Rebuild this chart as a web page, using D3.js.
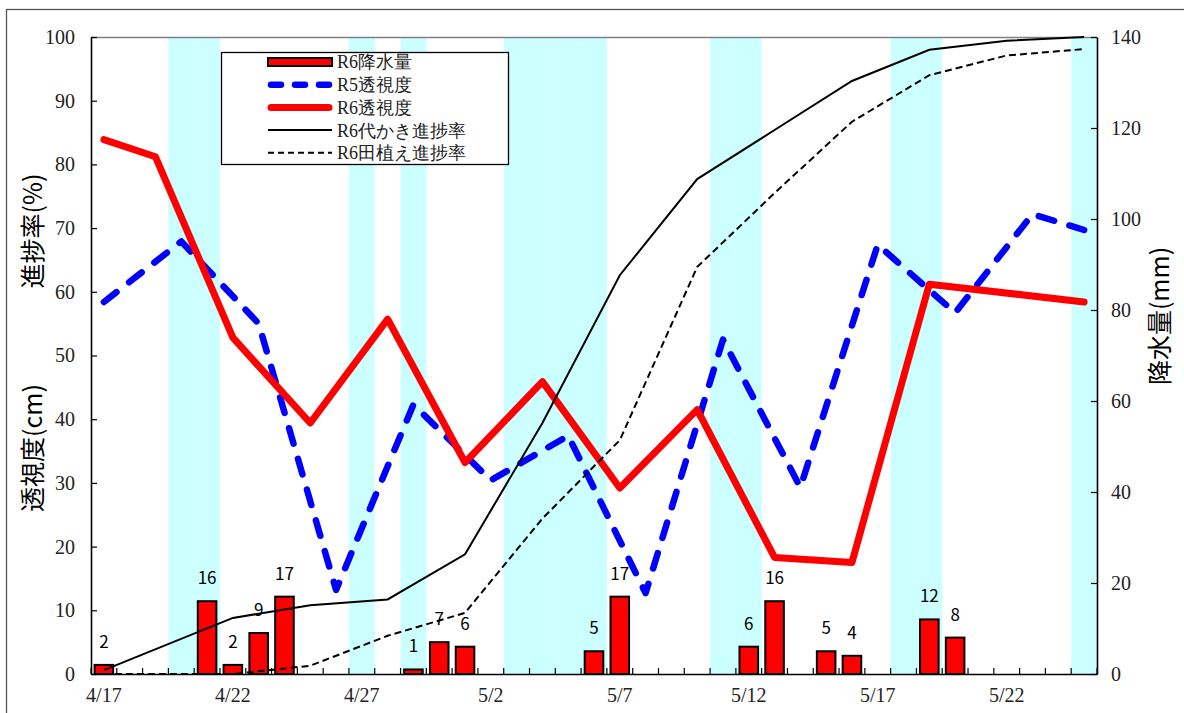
<!DOCTYPE html>
<html lang="ja">
<head>
<meta charset="utf-8">
<title>透視度・降水量・進捗率</title>
<script src="https://cdn.jsdelivr.net/npm/d3@7/dist/d3.min.js"></script>
<style>
  html, body { margin: 0; padding: 0; background: #fff; }
  svg { display: block; }
  .serif { font-family: "Liberation Serif", "DejaVu Serif", serif; }
  .gothic { font-family: "Noto Sans CJK JP", "Noto Sans", sans-serif; }
</style>
</head>
<body>
<svg id="chart" width="1184" height="713"></svg>
<script>
// Daily categories on the x axis (4/17 – 5/25)
const categories = [
  "4/17","4/18","4/19","4/20","4/21","4/22","4/23","4/24","4/25","4/26",
  "4/27","4/28","4/29","4/30","5/1","5/2","5/3","5/4","5/5","5/6",
  "5/7","5/8","5/9","5/10","5/11","5/12","5/13","5/14","5/15","5/16",
  "5/17","5/18","5/19","5/20","5/21","5/22","5/23","5/24","5/25"
];
const xTickLabels = ["4/17","4/22","4/27","5/2","5/7","5/12","5/17","5/22"];

// Weekends and holidays, shaded
const holidays = ["4/20","4/21","4/27","4/29","5/3","5/4","5/5","5/6","5/11","5/12","5/18","5/19","5/25"];

// R6 precipitation (mm), right axis
const rainDates = ["4/17","4/21","4/22","4/23","4/24","4/29","4/30","5/1","5/6","5/7","5/12","5/13","5/15","5/16","5/19","5/20"];
const rainMm    = [2, 16, 2, 9, 17, 1, 7, 6, 5, 17, 6, 16, 5, 4, 12, 8];

// R5 transparency (cm)
const r5Dates = ["4/17","4/20","4/23","4/26","4/29","5/2","5/5","5/8","5/11","5/14","5/17","5/20","5/23","5/25"];
const r5Clarity = [58.4, 67.9, 55.0, 13.2, 42.3, 30.4, 37.4, 12.7, 52.5, 29.3, 67.4, 56.7, 72.2, 69.7];

// R6 transparency (cm)
const r6Dates = ["4/17","4/19","4/22","4/25","4/28","5/1","5/4","5/7","5/10","5/13","5/16","5/19","5/25"];
const r6Clarity = [83.9, 81.2, 52.8, 39.4, 55.7, 33.2, 45.9, 29.2, 41.5, 18.3, 17.5, 61.2, 58.4];

// R6 progress (%) of puddling and transplanting
const progressDates = ["4/17","4/22","4/25","4/28","5/1","5/4","5/7","5/10","5/13","5/16","5/19","5/22","5/25"];
const puddlingPct     = [0.6, 8.8, 10.8, 11.7, 18.8, 39.4, 62.6, 77.7, 85.4, 93.1, 98.0, 99.4, 100];
const transplantPct   = [0, 0, 1.3, 6.0, 9.6, 24.4, 36.7, 63.9, 75.5, 86.7, 94.0, 97.1, 98.1];

const leftTicks  = [0,10,20,30,40,50,60,70,80,90,100];
const rightTicks = [0,20,40,60,80,100,120,140];

const legendItems = ["R6降水量","R5透視度","R6透視度","R6代かき進捗率","R6田植え進捗率"];

// ---- layout ----
const plot = { left: 91, right: 1097, top: 37, bottom: 674 };

const svg = d3.select("#chart");

const x = d3.scaleBand().domain(categories).range([plot.left, plot.right]).padding(0);
const bw = x.bandwidth();
const cx = d => x(d) + bw / 2;
const yL = d3.scaleLinear().domain([0, 100]).range([plot.bottom, plot.top]);
const yR = d3.scaleLinear().domain([0, 140]).range([plot.bottom, plot.top]);

// outer chart frame
svg.append("rect")
  .attr("x", 6.5).attr("y", 9.5).attr("width", 1200).attr("height", 720)
  .attr("fill", "none").attr("stroke", "#555").attr("stroke-width", 1.3);

// holiday bands
svg.append("g").selectAll("rect").data(holidays).join("rect")
  .attr("x", d => x(d)).attr("y", plot.top)
  .attr("width", bw).attr("height", plot.bottom - plot.top)
  .attr("fill", "#ccffff");

// plot area top border
svg.append("line")
  .attr("x1", plot.left).attr("x2", plot.right)
  .attr("y1", plot.top + 0.5).attr("y2", plot.top + 0.5)
  .attr("stroke", "#808080").attr("stroke-width", 1.5);

// precipitation bars
const barW = bw * 0.72;
const rain = rainDates.map((d, i) => ({ d, v: rainMm[i] }));
svg.append("g").selectAll("rect").data(rain).join("rect")
  .attr("x", r => cx(r.d) - barW / 2)
  .attr("y", r => yR(r.v))
  .attr("width", barW)
  .attr("height", r => yR(0) - yR(r.v))
  .attr("fill", "#ff0000").attr("stroke", "#000").attr("stroke-width", 2);

// series lines
const pts = (dates, vals) => dates.map((d, i) => ({ d, v: vals[i] }));
const line = d3.line().x(p => cx(p.d)).y(p => yL(p.v));

svg.append("path").datum(pts(r5Dates, r5Clarity))
  .attr("d", line).attr("fill", "none")
  .attr("stroke", "#0000ff").attr("stroke-width", 6.5)
  .attr("stroke-dasharray", "16,16").attr("stroke-linecap", "round")
  .attr("stroke-linejoin", "round");

svg.append("path").datum(pts(r6Dates, r6Clarity))
  .attr("d", line).attr("fill", "none")
  .attr("stroke", "#ff0000").attr("stroke-width", 7)
  .attr("stroke-linecap", "round").attr("stroke-linejoin", "round");

svg.append("path").datum(pts(progressDates, puddlingPct))
  .attr("d", line).attr("fill", "none")
  .attr("stroke", "#000").attr("stroke-width", 2);

svg.append("path").datum(pts(progressDates, transplantPct))
  .attr("d", line).attr("fill", "none")
  .attr("stroke", "#000").attr("stroke-width", 2)
  .attr("stroke-dasharray", "7,4");

// bar value labels
svg.append("g").selectAll("text").data(rain).join("text")
  .attr("class", "gothic")
  .attr("x", r => cx(r.d))
  .attr("y", r => yR(r.v) - 17)
  .attr("text-anchor", "middle")
  .attr("font-size", 17)
  .attr("fill", "#000")
  .text(r => d3.format("d")(r.v));

// ---- axes ----
const leftAxis = svg.append("g")
  .attr("transform", `translate(${plot.left},0)`)
  .call(d3.axisLeft(yL).tickValues(leftTicks).tickSize(-6).tickSizeOuter(0).tickPadding(16));
const rightAxis = svg.append("g")
  .attr("transform", `translate(${plot.right},0)`)
  .call(d3.axisRight(yR).tickValues(rightTicks).tickSize(-6).tickSizeOuter(0).tickPadding(14));
const bottomAxis = svg.append("g")
  .attr("transform", `translate(0,${plot.bottom})`)
  .call(d3.axisBottom(x).tickValues(xTickLabels).tickSize(0).tickSizeOuter(0).tickPadding(14));

[leftAxis, rightAxis, bottomAxis].forEach(g => {
  g.attr("font-family", null).attr("font-size", null);
  g.select(".domain").attr("stroke", "#000").attr("stroke-width", 1.6);
  g.selectAll(".tick line").attr("stroke", "#000").attr("stroke-width", 1.2);
  g.selectAll(".tick text")
    .attr("class", "serif").attr("font-size", 20).attr("fill", "#222");
});

// x ticks on day boundaries, pointing inward
const boundaries = categories.map(d => x(d)).concat([plot.right]);
svg.append("g").selectAll("line").data(boundaries).join("line")
  .attr("x1", b => b).attr("x2", b => b)
  .attr("y1", plot.bottom).attr("y2", plot.bottom - 6)
  .attr("stroke", "#000").attr("stroke-width", 1.2);

// axis titles
const title = (tx, ty, label) => svg.append("text")
  .attr("class", "gothic")
  .attr("transform", `translate(${tx},${ty}) rotate(-90)`)
  .attr("text-anchor", "middle")
  .attr("font-size", 25).attr("fill", "#000")
  .text(label);
title(42, 448, "透視度(cm)");
title(42, 231, "進捗率(%)");
title(1169, 316, "降水量(mm)");

// ---- legend ----
const lg = svg.append("g");
lg.append("rect")
  .attr("x", 221.5).attr("y", 52.5).attr("width", 287).attr("height", 112)
  .attr("fill", "#fff").attr("stroke", "#000").attr("stroke-width", 1.3);

const rowY = i => 62 + i * 22.7;
const sx1 = 268, sx2 = 332;

legendItems.forEach((name, i) => {
  const y = rowY(i);
  if (i === 0) {
    lg.append("rect").attr("x", sx1).attr("y", y - 4).attr("width", sx2 - sx1).attr("height", 8)
      .attr("fill", "#ff0000").attr("stroke", "#000").attr("stroke-width", 2);
  } else if (i === 1) {
    lg.append("line").attr("x1", sx1 + 3).attr("x2", sx2 - 3).attr("y1", y).attr("y2", y)
      .attr("stroke", "#0000ff").attr("stroke-width", 6.5)
      .attr("stroke-dasharray", "10,14").attr("stroke-linecap", "round");
  } else if (i === 2) {
    lg.append("line").attr("x1", sx1 + 3).attr("x2", sx2 - 3).attr("y1", y).attr("y2", y)
      .attr("stroke", "#ff0000").attr("stroke-width", 7).attr("stroke-linecap", "round");
  } else if (i === 3) {
    lg.append("line").attr("x1", sx1).attr("x2", sx2).attr("y1", y).attr("y2", y)
      .attr("stroke", "#000").attr("stroke-width", 2);
  } else {
    lg.append("line").attr("x1", sx1).attr("x2", sx2).attr("y1", y).attr("y2", y)
      .attr("stroke", "#000").attr("stroke-width", 2).attr("stroke-dasharray", "6,4");
  }
  lg.append("text")
    .attr("class", "serif")
    .attr("x", 337).attr("y", y).attr("dy", "0.36em")
    .attr("font-size", 18).attr("fill", "#222")
    .text(name);
});
</script>
</body>
</html>
